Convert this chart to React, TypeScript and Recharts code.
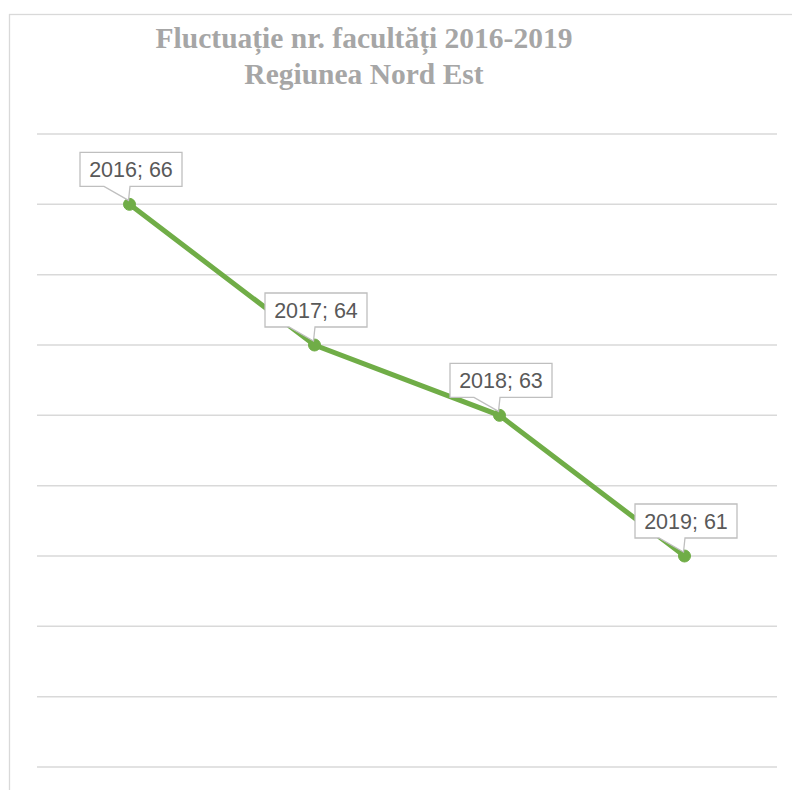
import React from 'react';
import { LineChart, Line, XAxis, YAxis, CartesianGrid, LabelList } from 'recharts';

const years = ['2016', '2017', '2018', '2019'];
const faculties = [66, 64, 63, 61];
const yTicks = [58, 59, 60, 61, 62, 63, 64, 65, 66, 67];
const titleLines = ['Fluctuație nr. facultăți 2016-2019', 'Regiunea Nord Est'];

const data = years.map((y, i) => ({ year: y, value: faculties[i] }));

const W = 792;
const H = 790;

const CalloutLabel = (props: any) => {
  const { x, y, value, index } = props;
  if (x == null || y == null) return null;
  const bw = 102;
  const bh = 34;
  const left = x + 1.5 - bw / 2;
  const top = y - 52;
  const bottom = top + bh;
  const right = left + bw;
  const d = `M${left},${top} H${right} V${bottom} H${left + 50} L${x - 1},${y - 4} L${left + 24},${bottom} H${left} Z`;
  return (
    <g>
      <path d={d} fill="#ffffff" stroke="#bfbfbf" strokeWidth={1.3} />
      <text
        x={left + bw / 2}
        y={top + 25}
        textAnchor="middle"
        fontFamily="'Liberation Sans', Arial, sans-serif"
        fontSize={21.5}
        fill="#595959"
      >
        {`${years[index]}; ${value}`}
      </text>
    </g>
  );
};

export default function App() {
  return (
    <div style={{ position: 'absolute', left: 0, top: 0, width: W, height: H, background: '#ffffff', overflow: 'hidden' }}>
      <svg width={W} height={H} style={{ position: 'absolute', left: 0, top: 0 }}>
        <rect x={9.5} y={14.5} width={W + 20} height={H + 20} fill="#ffffff" stroke="#d9d9d9" strokeWidth={1.3} />
        <text
          x={364}
          y={48}
          textAnchor="middle"
          fontFamily="'Liberation Serif', 'Times New Roman', serif"
          fontWeight="bold"
          fontSize={29.5}
          fill="#a6a6a6"
        >
          {titleLines[0]}
        </text>
        <text
          x={364}
          y={84}
          textAnchor="middle"
          fontFamily="'Liberation Serif', 'Times New Roman', serif"
          fontWeight="bold"
          fontSize={29.5}
          fill="#a6a6a6"
        >
          {titleLines[1]}
        </text>
      </svg>
      <div style={{ position: 'absolute', left: 0, top: 0 }}>
        <LineChart width={W} height={H} data={data} margin={{ top: 134, right: 15, bottom: 23, left: 37 }}>
          <CartesianGrid vertical={false} stroke="#d9d9d9" strokeWidth={1.5} />
          <XAxis dataKey="year" hide padding={{ left: 92.5, right: 92.5 }} />
          <YAxis hide domain={[58, 67]} ticks={yTicks} type="number" />
          <Line
            dataKey="value"
            stroke="#70ad47"
            strokeWidth={5}
            dot={{ r: 6, fill: '#70ad47', stroke: '#70ad47', strokeWidth: 1 }}
            isAnimationActive={false}
          >
            <LabelList dataKey="value" content={<CalloutLabel />} />
          </Line>
        </LineChart>
      </div>
    </div>
  );
}
